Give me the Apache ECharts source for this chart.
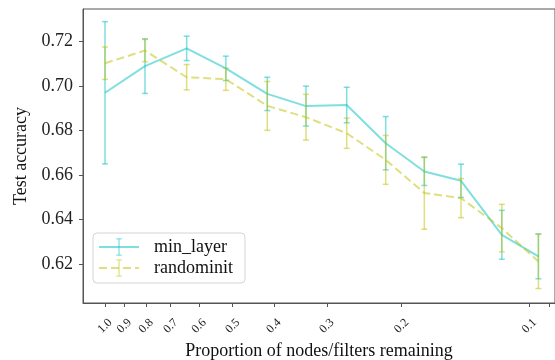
<!DOCTYPE html>
<html>
<head>
<meta charset="utf-8">
<script src="https://cdn.jsdelivr.net/npm/echarts@6/dist/echarts.min.js"></script>
<style>
  html, body { margin: 0; padding: 0; background: #fff; }
  #chart { width: 555px; height: 360px; }
</style>
</head>
<body>
<div id="chart"></div>
<script>
// proportion of nodes/filters remaining (log x axis, reversed)
const proportions = [1.0, 0.805, 0.642, 0.519, 0.4145, 0.336, 0.2694, 0.218, 0.1768, 0.1449, 0.1161, 0.0952];

// min_layer: mean accuracy and error bar half-width
const minLayerMean = [0.697, 0.709, 0.717, 0.708, 0.6965, 0.691, 0.6915, 0.6743, 0.6616, 0.6574, 0.6331, 0.6234];
const minLayerErr = [0.032, 0.0123, 0.0055, 0.0055, 0.0075, 0.009, 0.008, 0.012, 0.0063, 0.0075, 0.011, 0.0101];

// randominit
const randomMean = [0.7103, 0.716, 0.704, 0.7031, 0.6911, 0.686, 0.6788, 0.6668, 0.6519, 0.6496, 0.6361, 0.6211];
const randomErr = [0.0073, 0.005, 0.0057, 0.005, 0.011, 0.0103, 0.0068, 0.011, 0.0163, 0.0088, 0.0107, 0.0122];

// tick labels
const xTicks = [1.0, 0.9, 0.8, 0.7, 0.6, 0.5, 0.4, 0.3, 0.2, 0.1, 0.09];
const xLabels = [1.0, 0.9, 0.8, 0.7, 0.6, 0.5, 0.4, 0.3, 0.2, 0.1];
const yTicks = [0.62, 0.64, 0.66, 0.68, 0.70, 0.72];

const CYAN = "rgba(0, 191, 191, 0.5)";
const OLIVE = "rgba(191, 191, 0, 0.5)";
const FONT = "'Liberation Serif', 'DejaVu Serif', serif";

// I-beam legend marker (the degenerate subpaths only widen the bbox so it stays square)
const ERRBAR_ICON =
  "path://M-10,0L-10,0ZM10,0L10,0ZM-3,-10H3V-8.6H0.7V8.6H3V10H-3V8.6H-0.7V-8.6H-3Z";

const chart = echarts.init(document.getElementById("chart"));

function lineData(mean) {
  return proportions.map((p, i) => [p, mean[i]]);
}
function barData(mean, err) {
  return proportions.map((p, i) => [p, mean[i] - err[i], mean[i] + err[i]]);
}

function renderErrorBar(color) {
  return function (params, api) {
    const x = api.value(0);
    const lo = api.coord([x, api.value(1)]);
    const hi = api.coord([x, api.value(2)]);
    const cap = 3;
    const style = { stroke: color, lineWidth: 1.5, fill: null };
    return {
      type: "group",
      children: [
        { type: "line", shape: { x1: lo[0], y1: hi[1], x2: lo[0], y2: lo[1] }, style },
        { type: "line", shape: { x1: lo[0] - cap, y1: hi[1], x2: lo[0] + cap, y2: hi[1] }, style },
        { type: "line", shape: { x1: lo[0] - cap, y1: lo[1], x2: lo[0] + cap, y2: lo[1] }, style },
      ],
    };
  };
}

const option = {
  animation: false,
  textStyle: { fontFamily: FONT },
  grid: {
    left: 83,
    right: 0,
    top: 9,
    bottom: 57,
    outerBoundsMode: "none",
    containLabel: false,
    show: true,
    borderColor: "#555",
    borderWidth: 1,
  },
  legend: {
    orient: "vertical",
    left: 93,
    top: 233,
    data: ["min_layer", "randominit"],
    itemWidth: 40,
    itemHeight: 22,
    itemGap: 3,
    padding: [5, 12, 6, 5],
    backgroundColor: "#fff",
    borderColor: "#d4d4d4",
    borderWidth: 1,
    borderRadius: 4,
    textStyle: { fontFamily: FONT, fontSize: 18, color: "#111", padding: [0, 0, 0, 10] },
  },
  xAxis: {
    type: "log",
    logBase: 10,
    inverse: true,
    min: 0.087,
    max: 1.1268,
    name: "Proportion of nodes/filters remaining",
    nameLocation: "middle",
    nameGap: 36,
    nameTextStyle: { fontFamily: FONT, fontSize: 18, color: "#111" },
    axisLine: { lineStyle: { color: "#555", width: 1 } },
    axisTick: { show: true, length: 4, lineStyle: { color: "#555" }, customValues: xTicks },
    axisLabel: {
      customValues: xLabels,
      rotate: 45,
      margin: 23,
      align: "center",
      verticalAlign: "middle",
      fontFamily: FONT,
      fontSize: 12,
      color: "#222",
      formatter: (v) => v.toFixed(1),
    },
    splitLine: { show: false },
    minorTick: { show: false },
  },
  yAxis: {
    type: "value",
    min: 0.6024,
    max: 0.7347,
    name: "Test accuracy",
    nameLocation: "middle",
    nameGap: 53,
    nameTextStyle: { fontFamily: FONT, fontSize: 18, color: "#111" },
    axisLine: { show: true, lineStyle: { color: "#555", width: 1 } },
    axisTick: { show: true, length: 4, lineStyle: { color: "#555" }, customValues: yTicks },
    axisLabel: {
      customValues: yTicks,
      margin: 10,
      fontFamily: FONT,
      fontSize: 18,
      color: "#222",
      formatter: (v) => v.toFixed(2),
    },
    splitLine: { show: false },
  },
  series: [
    {
      name: "min_layer",
      type: "line",
      data: lineData(minLayerMean),
      symbol: ERRBAR_ICON,
      showSymbol: false,
      lineStyle: { color: CYAN, width: 2 },
      itemStyle: { color: CYAN, borderWidth: 0 },
      z: 3,
    },
    {
      name: "min_layer_err",
      type: "custom",
      data: barData(minLayerMean, minLayerErr),
      encode: { x: 0, y: [1, 2] },
      renderItem: renderErrorBar(CYAN),
      z: 3,
    },
    {
      name: "randominit",
      type: "line",
      data: lineData(randomMean),
      symbol: ERRBAR_ICON,
      showSymbol: false,
      lineStyle: { color: OLIVE, width: 2, type: [8, 4] },
      itemStyle: { color: OLIVE, borderWidth: 0 },
      z: 4,
    },
    {
      name: "randominit_err",
      type: "custom",
      data: barData(randomMean, randomErr),
      encode: { x: 0, y: [1, 2] },
      renderItem: renderErrorBar(OLIVE),
      z: 4,
    },
  ],
};

chart.setOption(option);
</script>
</body>
</html>
